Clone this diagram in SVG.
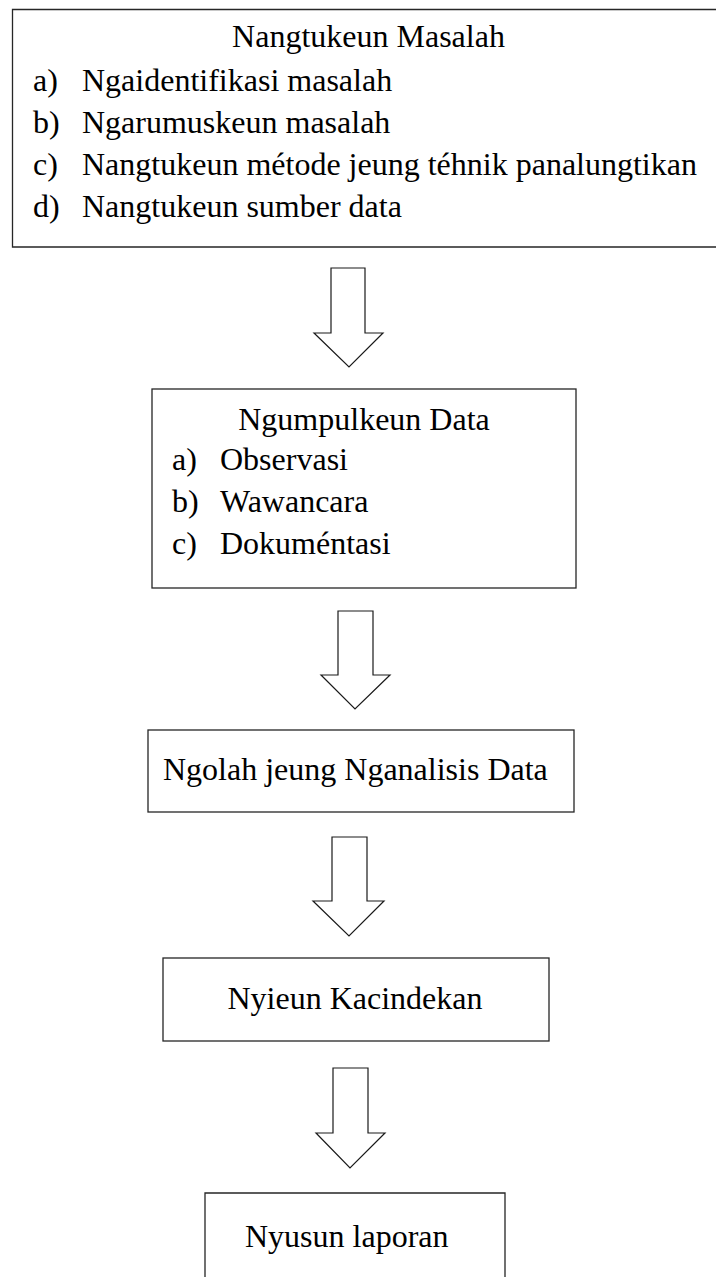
<svg xmlns="http://www.w3.org/2000/svg" width="716" height="1277" viewBox="0 0 716 1277">
<style>
.box{fill:#fff;stroke:#262626;stroke-width:1.3}
.arr{fill:#fff;stroke:#1a1a1a;stroke-width:1.2;stroke-linejoin:miter}
text{font-family:"Liberation Serif","Times New Roman",serif;font-size:32px;fill:#000}
.c{text-anchor:middle}
</style>
<rect width="716" height="1277" fill="#fff"/>
<g id="connectors">
<polygon class="arr" points="331,268 365,268 365,333 383,333 349,367 314,333 331,333"/>
<polygon class="arr" points="338,611 373,611 373,675 390,675 355,709 321,675 338,675"/>
<polygon class="arr" points="332,837 367,837 367,901 384,901 349,936 313,901 332,901"/>
<polygon class="arr" points="333,1068 368,1068 368,1133 385,1133 350,1168 316,1133 333,1133"/>
</g>
<g id="node-masalah">
<path class="box" d="M730,9.5 H12.5 V247 H730"/>
<text class="c" x="368.5" y="47">Nangtukeun Masalah</text>
<text x="33" y="91">a)</text><text x="82" y="91">Ngaidentifikasi masalah</text>
<text x="33" y="133">b)</text><text x="82" y="133">Ngarumuskeun masalah</text>
<text x="33" y="175">c)</text><text x="82" y="175">Nangtukeun métode jeung téhnik panalungtikan</text>
<text x="33" y="217">d)</text><text x="82" y="217">Nangtukeun sumber data</text>
</g>
<g id="node-ngumpulkeun">
<rect class="box" x="152" y="389" width="424" height="199"/>
<text class="c" x="364" y="430">Ngumpulkeun Data</text>
<text x="172" y="470">a)</text><text x="220" y="470">Observasi</text>
<text x="172" y="512">b)</text><text x="220" y="512">Wawancara</text>
<text x="172" y="554">c)</text><text x="220" y="554">Dokuméntasi</text>
</g>
<g id="node-ngolah">
<rect class="box" x="148" y="730" width="426" height="82"/>
<text x="163" y="780">Ngolah jeung Nganalisis Data</text>
</g>
<g id="node-kacindekan">
<rect class="box" x="163" y="958" width="386" height="83"/>
<text class="c" x="355" y="1009">Nyieun Kacindekan</text>
</g>
<g id="node-laporan">
<path class="box" d="M205,1290 V1193 H505 V1290"/>
<text x="245" y="1247">Nyusun laporan</text>
</g>
</svg>
